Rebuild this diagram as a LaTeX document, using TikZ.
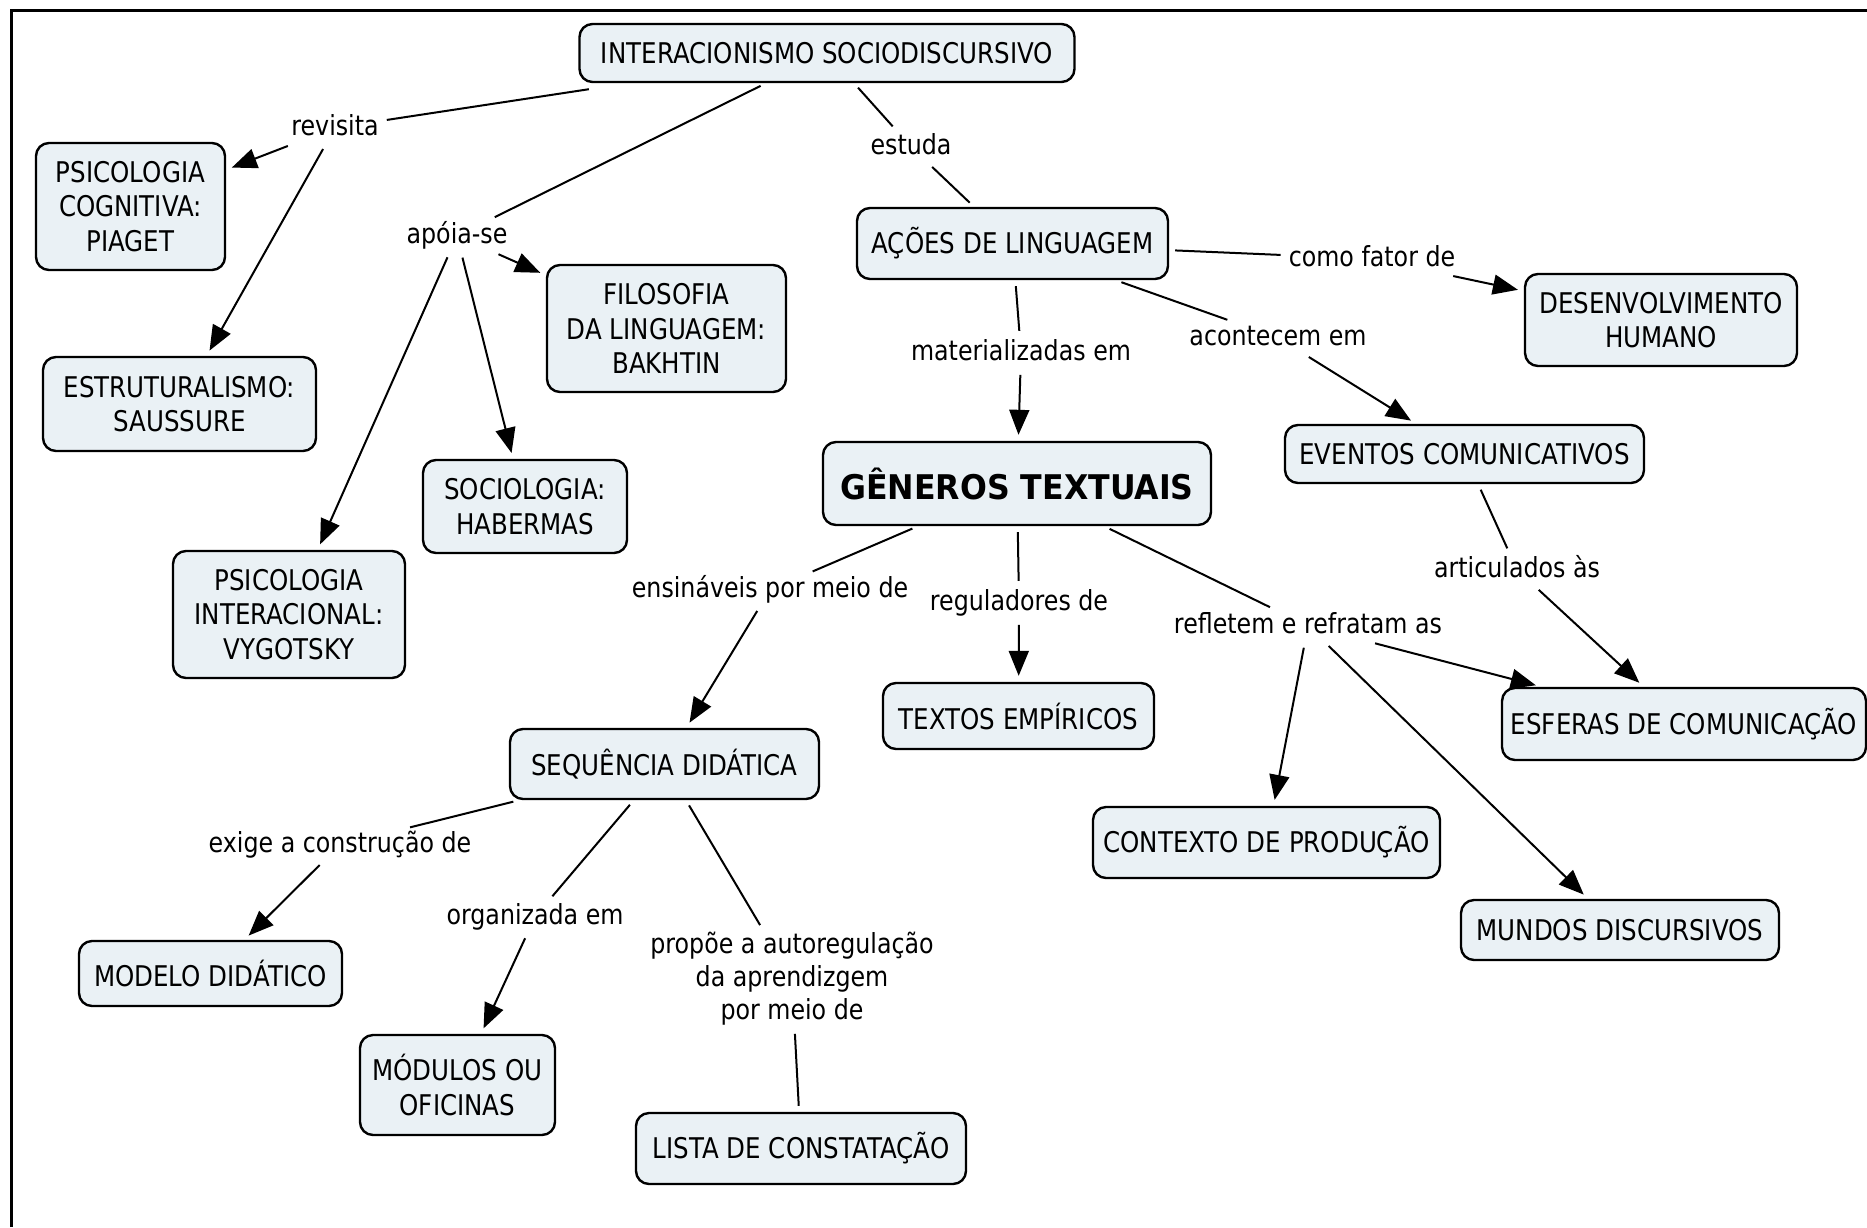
\documentclass[tikz,border=0pt]{standalone}
\usepackage{fontspec}
\setmainfont{DejaVu Sans}[FakeStretch=0.86]
\newfontfamily\linkfont{DejaVu Sans}[FakeStretch=0.86]
\newfontfamily\titlefont{DejaVu Sans}[FakeStretch=0.93]
\usetikzlibrary{arrows.meta}
\definecolor{boxfill}{RGB}{234,241,245}
\begin{document}
\begin{tikzpicture}[x=1pt,y=-1pt,
  concept/.style={draw, line width=2.4pt, rounded corners=13pt, fill=boxfill,
    align=center, inner sep=0pt, font=\fontsize{28.5}{34.5}\selectfont},
  sz/.style 2 args={minimum width=#1pt, minimum height=#2pt},
  linkword/.style={inner sep=2pt, align=center, font=\linkfont\fontsize{27.6}{33}\selectfont},
  oneline/.style={linkword, anchor=base, text height=21pt, text depth=6.6pt},
  link/.style={line width=2pt, shorten <=6pt, shorten >=6pt},
  arrow/.style={link, -{Triangle[length=25pt,width=20pt]}},
  ]
\useasboundingbox (0,0) rectangle (1867,1227);
% outer frame (open on the right and at the bottom)
\draw[line width=3pt] (11,1227) -- (11,10) -- (1867,10);

% concepts
\node[concept, sz={495}{58}]  (isd)       at (827,53)      {INTERACIONISMO SOCIODISCURSIVO};
\node[concept, sz={189}{127}] (piaget)    at (130.5,206.5) {PSICOLOGIA\\COGNITIVA:\\PIAGET};
\node[concept, sz={273}{94}]  (saussure)  at (179.5,404)   {ESTRUTURALISMO:\\SAUSSURE};
\node[concept, sz={239}{127}] (bakhtin)   at (666.5,328.5) {FILOSOFIA\\DA LINGUAGEM:\\BAKHTIN};
\node[concept, sz={204}{93}]  (habermas)  at (525,506.5)   {SOCIOLOGIA:\\HABERMAS};
\node[concept, sz={232}{127}] (vygotsky)  at (289,614.5)   {PSICOLOGIA\\INTERACIONAL:\\VYGOTSKY};
\node[concept, sz={311}{71}]  (acoes)     at (1012.5,243.5){AÇÕES DE LINGUAGEM};
\node[concept, sz={272}{92}]  (desenv)    at (1661,320)    {DESENVOLVIMENTO\\HUMANO};
\node[concept, sz={388}{83}, font=\titlefont\bfseries\fontsize{34}{38}\selectfont]
                              (generos)   at (1017,483.5)  {GÊNEROS TEXTUAIS};
\node[concept, sz={359}{58}]  (eventos)   at (1464.5,454)  {EVENTOS COMUNICATIVOS};
\node[concept, sz={364}{72}]  (esferas)   at (1684,724)    {ESFERAS DE COMUNICAÇÃO};
\node[concept, sz={271}{66}]  (textos)    at (1018.5,716)  {TEXTOS EMPÍRICOS};
\node[concept, sz={309}{70}]  (sequencia) at (664.5,764)   {SEQUÊNCIA DIDÁTICA};
\node[concept, sz={347}{71}]  (contexto)  at (1266.5,842.5){CONTEXTO DE PRODUÇÃO};
\node[concept, sz={318}{60}]  (mundos)    at (1620,930)    {MUNDOS DISCURSIVOS};
\node[concept, sz={263}{65}]  (modelo)    at (210.5,973.5) {MODELO DIDÁTICO};
\node[concept, sz={195}{100}] (modulos)   at (457.5,1085)  {MÓDULOS OU\\OFICINAS};
\node[concept, sz={330}{71}]  (lista)     at (801,1148.5)  {LISTA DE CONSTATAÇÃO};

% linking phrases
\node[oneline] (revisita)     at (335,135)  {revisita};
\node[oneline] (apoia)        at (457,243)  {apóia-se};
\node[oneline] (estuda)       at (911,154)  {estuda};
\node[oneline] (comofator)    at (1372,266) {como fator de};
\node[oneline] (materializa)  at (1021,360) {materializadas em};
\node[oneline] (acontecem)    at (1278,345) {acontecem em};
\node[oneline] (articulados)  at (1517,577) {articulados às};
\node[oneline] (ensinaveis)   at (770,597)  {ensináveis por meio de};
\node[oneline] (reguladores)  at (1019,610) {reguladores de};
\node[oneline] (refletem)     at (1308,633) {refletem e refratam as};
\node[oneline] (exige)        at (340,852)  {exige a construção de};
\node[oneline] (organizada)   at (535,924)  {organizada em};
\node[linkword] (propoe)      at (792,979)  {propõe a autoregulação\\da aprendizgem\\por meio de};

% connections
\draw[link, shorten <=40pt] (isd) -- (revisita);
\draw[arrow] (revisita) -- (piaget);
\draw[arrow] (revisita) -- (saussure);
\draw[link]  (isd) -- (apoia);
\draw[arrow] (apoia) -- (bakhtin);
\draw[arrow] (apoia) -- (habermas);
\draw[arrow] (apoia) -- (vygotsky);
\draw[link]  (isd) -- (estuda);
\draw[link]  (estuda) -- (acoes);
\draw[link]  (acoes) -- (comofator);
\draw[arrow] (comofator) -- (desenv);
\draw[link]  (acoes) -- (materializa);
\draw[arrow] (materializa) -- (generos);
\draw[link]  (acoes) -- (acontecem);
\draw[arrow] (acontecem) -- (eventos);
\draw[link]  (eventos) -- (articulados);
\draw[arrow] (articulados) -- (esferas);
\draw[link]  (generos) -- (ensinaveis);
\draw[arrow] (ensinaveis) -- (sequencia);
\draw[link]  (generos) -- (reguladores);
\draw[arrow] (reguladores) -- (textos);
\draw[link]  (generos) -- (refletem);
\draw[arrow] (refletem) -- (contexto);
\draw[arrow] (refletem) -- (mundos);
\draw[arrow] (refletem) -- (esferas);
\draw[link]  (sequencia) -- (exige);
\draw[arrow] (exige) -- (modelo);
\draw[link]  (sequencia) -- (organizada);
\draw[arrow] (organizada) -- (modulos);
\draw[link]  (sequencia) -- (propoe);
\draw[link]  (propoe) -- (lista);
\end{tikzpicture}
\end{document}
